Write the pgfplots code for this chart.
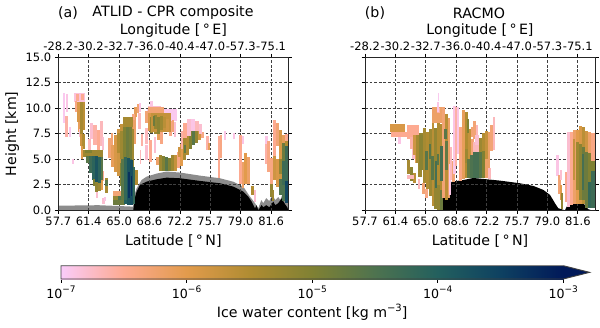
\documentclass[border=0pt]{standalone}
\usepackage{fontspec}
\setmainfont{DejaVu Sans}
\usepackage{pgfplots}
\usepackage{pgfplotstable}
\pgfplotsset{compat=1.18}
\pgfdeclareplotmark{seg}{\pgfpathrectangle{\pgfpointorigin}{\pgfpoint{\segw pt}{10.2*\segh pt}}\pgfusepathqfill}
\pgfplotstableread{
x y w h v
5 8.6 2 2.9 -6.95
7 7.2 3 2.0 -6.6
8 9.6 2 1.8 -6.9
14 4.5 2 0.5 -6.9
11 7.2 2 1.0 -6.95
16 10.6 11 0.9 -6.85
18 10.7 3 0.7 -6.5
23 10.8 3 0.6 -6.5
17 9.6 2 1.1 -6.4
19 8.7 3 1.9 -5.9
22 7.5 3 3.1 -5.4
25 7.9 2 2.7 -5.6
20 7.7 2 1.0 -6.1
22 6.3 2 1.2 -5.8
24 6.0 3 1.5 -5.5
23 5.0 2 1.3 -6.0
21 7.2 1 0.8 -6.8
32 7.0 3 1.6 -6.8
30 5.9 3 1.1 -6.7
35 6.4 4 2.0 -6.6
39 5.9 3 2.0 -6.5
42 6.3 3 2.5 -6.7
44 5.9 2 1.3 -6.8
25 5.2 20 0.75 -5.3
27 5.6 7 0.35 -5.0
28 4.6 3 0.7 -4.6
31 3.7 3 1.6 -4.3
34 3.0 3 2.3 -4.1
37 2.8 3 2.5 -3.8
40 2.6 3 2.6 -4.1
43 3.0 2 2.2 -4.6
35 2.4 2 0.7 -5.0
37 1.8 3 1.0 -5.2
40 1.9 3 0.8 -5.3
43 2.0 2 1.0 -6.0
45 2.9 1 1.0 -6.5
38 1.2 2 0.6 -6.8
47 1.7 3 1.5 -5.4
47 2.4 3 0.6 -4.6
44 0.6 3 0.6 -6.8
46 0.9 2 0.4 -6.9
53 6.4 2 1.2 -6.3
50 5.1 3 2.0 -6.3
53 4.2 3 2.2 -6.1
56 3.8 3 3.6 -5.9
59 3.4 3 4.6 -5.8
62 4.6 3 3.9 -5.7
55 1.4 12 0.45 -6.3
55 1.0 12 0.45 -5.2
55 0.5 12 0.5 -4.8
60 1.0 3 0.4 -4.5
65 7.0 3 2.0 -5.2
68 6.8 3 2.3 -5.2
71 7.2 3 1.9 -5.3
74 7.0 1 2.0 -5.9
75 6.5 3 2.8 -6.2
62 2.4 3 2.2 -5.0
65 3.5 3 3.5 -4.6
68 4.0 3 2.8 -4.4
71 4.0 3 3.2 -4.4
74 3.0 2 3.5 -5.2
63 1.0 3 1.4 -4.7
66 0.6 3 2.9 -4.0
69 0.5 3 3.5 -3.5
72 0.5 3 3.5 -3.5
75 0.9 2 3.0 -4.3
70 1.0 1 3.0 -3.2
73 1.2 1 2.2 -3.2
77 2.5 3 1.5 -5.5
66 4.0 2 1.5 -4.2
76 9.1 3 1.0 -6.1
79 9.5 2 0.9 -6.3
74 8.9 3 0.5 -6.4
81 9.6 2 0.9 -6.9
80 8.0 3 1.5 -6.7
83 6.3 2 1.2 -6.6
82 4.5 1 1.4 -6.7
87 6.5 3 1.6 -6.7
89 8.8 30 1.1 -6.95
90 9.6 13 0.6 -6.8
92 10.2 3 0.5 -6.9
87 8.6 3 1.1 -6.3
90 7.8 3 1.8 -5.9
93 7.7 3 1.9 -5.4
96 7.5 3 2.1 -5.3
99 7.8 3 1.7 -5.1
102 7.8 3 1.6 -5.5
105 8.1 3 1.1 -5.8
108 7.7 3 1.5 -5.9
111 7.3 3 1.5 -6.4
114 7.7 2 1.2 -6.3
116 7.2 2 1.5 -6.8
92 7.6 3 1.5 -5.2
95 8.1 2 1.0 -4.7
99 6.9 3 0.8 -6.1
102 6.5 3 1.2 -6.4
87 4.9 3 1.5 -6.8
91 4.7 3 2.2 -6.5
96 5.6 2 1.6 -6.8
98 4.4 3 0.8 -6.2
101 3.9 3 1.5 -5.3
104 3.9 3 1.4 -5.0
107 3.9 3 1.3 -4.6
110 3.9 3 1.2 -5.0
113 3.9 3 1.5 -5.3
116 3.9 3 1.5 -5.7
119 4.1 3 1.6 -6.4
122 4.3 3 2.2 -6.0
125 4.9 3 2.2 -5.4
128 5.4 3 1.9 -5.5
131 6.0 3 1.9 -5.0
134 6.4 3 1.4 -4.6
137 6.6 3 1.2 -5.2
140 6.9 3 0.9 -5.8
143 7.1 3 0.6 -6.4
120 5.2 3 1.0 -5.8
123 6.0 2 1.8 -6.6
125 7.1 4 1.5 -6.5
129 7.3 4 1.7 -6.8
133 7.8 4 1.2 -6.9
137 7.8 4 1.0 -6.7
141 7.5 3 1.0 -6.8
126 5.6 2 0.8 -4.7
148 5.9 3 1.4 -6.6
150 5.9 2 0.7 -6.1
160 3.2 2 4.1 -6.5
162 5.1 2 2.3 -6.4
166 6.9 2 0.9 -6.9
175 7.0 2 0.6 -6.9
181 2.6 3 4.8 -6.5
184 2.2 2 2.5 -6.2
184 6.5 2 0.8 -6.9
186 2.6 3 3.0 -6.0
189 2.6 3 2.6 -6.2
193 1.5 3 0.9 -5.5
196 0.8 2 1.2 -6.8
207 4.5 2 2.8 -6.6
207 6.5 3 0.8 -6.9
209 3.8 3 3.0 -6.4
212 2.6 3 2.5 -6.4
212 1.3 3 1.3 -5.2
214 0.9 2 1.1 -5.3
215 5.3 3 3.6 -6.5
218 2.3 3 2.7 -5.9
218 6.3 3 2.3 -6.3
221 2.2 3 2.5 -5.8
221 4.5 3 3.4 -5.9
224 3.7 3 3.7 -6.1
227 4.6 3 2.9 -6.5
215 3.0 3 2.3 -5.8
224 0.9 3 2.8 -4.5
221 1.5 3 1.6 -4.5
227 0.7 3 2.4 -3.6
224 2.5 3 2.3 -4.3
227 2.9 3 3.5 -4.3
221 3.6 3 1.4 -5.2
224 4.8 3 1.8 -4.8
227 6.3 3 0.5 -5.5
65 8.2 10 0.9 -5.4
59 5.6 3 2.0 -5.5
62 5.0 3 2.8 -5.3
65 5.0 3 3.2 -5.0
68 5.0 3 3.2 -4.8
71 5.0 3 3.2 -4.9
74 5.0 2 3.0 -5.3
63 2.0 3 3.0 -4.6
66 1.0 3 4.2 -4.2
69 0.5 3 4.6 -3.8
72 0.5 3 4.4 -3.7
75 0.6 2 3.6 -4.2
70 1.2 2 2.6 -3.3
73 1.4 1 2.0 -3.2
93 7.7 20 1.8 -5.7
96 8.0 3 1.3 -5.2
99 7.5 3 1.6 -5.1
102 7.9 3 1.3 -5.3
105 8.1 3 1.0 -5.6
108 7.8 3 1.2 -5.8
95 8.3 2 0.9 -4.8
90 9.5 16 0.6 -6.3
}\tblA
\pgfplotstableread{
x y w h v
25 7.7 15 0.75 -5.9
26 7.15 19 0.55 -6.5
33 6.5 3 0.7 -6.9
42 3.6 3 1.3 -5.4
45 2.9 3 1.3 -5.1
48 2.7 3 1.0 -5.6
42 3.1 7 0.4 -6.7
53 2.1 2 1.0 -6.7
42 7.0 12 1.4 -6.5
45 6.0 5 1.2 -6.6
47 5.0 3 1.0 -6.8
50 4.6 4 2.8 -6.1
53 3.3 4 1.9 -5.3
54 5.1 4 2.5 -5.2
58 2.7 3 5.4 -5.4
61 2.1 3 5.6 -5.5
64 1.4 3 6.6 -5.3
57 1.6 3 1.1 -6.3
60 1.2 3 0.9 -6.4
67 0.4 2 8.3 -5.6
69 0.1 3 8.0 -5.2
72 0.0 3 2.6 -5.2
72 2.5 3 7.0 -5.5
75 0.0 3 2.0 -4.8
75 2.0 3 6.5 -5.5
67 8.6 10 1.5 -6.2
77 1.2 3 8.9 -6.3
72 9.5 3 0.5 -6.6
80 1.0 3 8.4 -5.6
83 1.2 2 7.8 -6.2
75 2.9 3 3.4 -4.4
70 2.2 2 2.6 -4.4
66 3.0 3 2.3 -4.6
60 4.0 3 1.8 -4.6
64 5.0 2 1.5 -4.6
72 4.4 2 1.1 -4.6
80 4.0 3 2.8 -4.7
79 7.0 3 1.0 -4.6
73 10.7 1 0.8 -6.95
72 9.6 2 1.0 -6.9
84 1.5 2 3.0 -6.9
85 3.0 2 3.2 -6.7
87 2.8 3 2.0 -6.3
88 3.6 3 6.6 -6.9
90 4.3 2 5.8 -6.6
92 5.5 2 4.6 -6.9
94 2.9 3 5.3 -6.4
97 3.1 3 6.7 -6.1
100 3.2 3 6.4 -5.5
103 3.2 3 4.8 -5.7
106 3.2 3 3.8 -6.3
102 7.6 2 1.4 -5.0
106 7.2 2 1.0 -6.3
108 7.0 3 1.8 -6.3
111 6.4 2 2.0 -6.7
113 6.5 3 0.6 -6.9
100 4.6 3 1.4 -5.3
102 3.2 3 1.8 -4.7
105 3.2 3 2.2 -4.5
108 3.2 3 2.5 -4.4
111 3.2 3 3.0 -4.4
114 3.2 3 3.2 -4.6
117 3.2 3 2.7 -5.0
120 3.2 3 1.8 -6.2
123 3.1 3 1.0 -6.7
114 5.7 3 1.4 -5.3
117 5.8 3 1.8 -5.5
120 5.0 3 2.8 -5.7
123 4.1 2 3.6 -6.2
125 5.8 3 2.6 -6.3
128 5.9 2 3.2 -6.7
108 5.7 6 1.0 -6.7
110 6.4 4 1.0 -6.8
191 3.4 3 2.0 -6.9
193 1.6 3 1.9 -6.3
195 1.0 2 1.5 -6.0
195 3.0 2 1.0 -6.8
196 0.1 2 1.6 -5.2
200 0.8 3 3.0 -6.5
202 0.3 3 7.4 -6.8
205 0.5 3 7.2 -6.5
208 0.6 3 7.3 -6.2
211 0.6 3 7.3 -6.0
214 0.6 3 7.7 -5.9
217 0.6 3 7.6 -5.6
220 0.2 3 7.6 -5.8
223 0.2 3 7.5 -6.2
226 0.2 4 7.4 -6.4
208 3.0 2 4.0 -5.7
211 2.0 3 4.7 -5.3
214 1.0 3 5.5 -5.1
217 1.0 3 5.2 -4.8
220 0.2 3 5.5 -4.8
223 0.2 3 5.4 -5.0
226 0.2 4 4.6 -5.0
217 2.0 2 3.5 -4.4
223 0.2 3 2.6 -4.2
226 0.2 4 3.7 -4.3
48 5.4 3 2.0 -5.8
51 4.6 3 2.8 -5.4
54 4.0 4 3.4 -5.1
}\tblB
\pgfplotsset{
  colormap={blw}{rgb255(0)=(250,204,250) rgb255(1)=(253,170,145) rgb255(2)=(226,155,76) rgb255(3)=(176,140,50) rgb255(4)=(128,129,51) rgb255(5)=(78,115,79) rgb255(6)=(35,96,94) rgb255(7)=(14,65,97) rgb255(8)=(1,25,89)},
  colormap name=blw,
  panel/.style={
    scale only axis, width=230pt, height=153pt, anchor=south west,
    xmin=0, xmax=230, ymin=0, ymax=15,
    xtick={0,30.4,60.8,91.2,121.6,152,182.4,212.8},
    ytick={0,2.5,5,7.5,10,12.5,15},
    xticklabels={57.7,61.4,65.0,68.6,72.2,75.7,79.0,81.6},
    tick align=outside, major tick length=3.5pt,
    tick style={black,line width=0.8pt},
    axis line style={line width=1pt,black!85},
    grid=major, grid style={black!75,line width=0.7pt,dash pattern=on 2.8pt off 1.8pt},
    axis on top,
    tick label style={font=\fontsize{11.5}{12}\selectfont},
    label style={font=\fontsize{14.2}{16}\selectfont},
    xlabel={Latitude [\,°\,N]},
    xlabel style={at={(axis description cs:0.5,-0.2)},anchor=center},
    point meta min=-7, point meta max=-3,
    clip=true,
  },
  toppanel/.style={
    scale only axis, width=230pt, height=153pt, anchor=south west,
    xmin=0, xmax=230, ymin=0, ymax=15,
    axis x line*=top, axis y line=none,
    xtick={0,30.4,60.8,91.2,121.6,152,182.4,212.8},
    xticklabels={-28.2,-30.2,-32.7,-36.0,-40.4,-47.0,-57.3,-75.1},
    tick align=outside, major tick length=3.5pt,
    tick style={black,line width=0.8pt},
    tick label style={font=\fontsize{11.5}{12}\selectfont},
    label style={font=\fontsize{14.2}{16}\selectfont},
    xlabel={Longitude [\,°\,E]},
    xlabel style={at={(axis description cs:0.5,1.175)},anchor=center},
    axis line style={draw=none},
  },
  seg/.style={
    scatter, only marks, mark=seg, point meta=explicit,
    visualization depends on={\thisrow{w} \as \segw},
    visualization depends on={\thisrow{h} \as \segh},
  },
}
\begin{document}
\begin{tikzpicture}[x=1pt,y=1pt]
\useasboundingbox (0,0) rectangle (600,327);
% panel a
\begin{axis}[panel, at={(58.3pt,116.7pt)},
  yticklabels={0.0,2.5,5.0,7.5,10.0,12.5,15.0},
  ylabel={Height [km]},
  ylabel style={at={(axis description cs:-0.2,0.5)},anchor=center,rotate=0}]
\addplot[seg] table[x=x,y=y,meta=v] {\tblA};
\addplot[fill=black!45,draw=none] coordinates {(0,0)(0,0.45)(40,0.5)(75,0.36)(75.7,1.34)(78.3,2.15)(83.3,2.97)(88.3,3.3)(98.3,3.6)(108.3,3.8)(121.7,3.7)(141.7,3.4)(161.7,3.14)(175,2.8)(185,2.32)(191.7,1.34)(196.7,0.7)(200,0.2)(203,1.0)(205,0.7)(208,1.2)(211,0.9)(214,1.5)(217,1.0)(220,1.3)(222,1.0)(225,1.8)(228,1.2)(230,0.6)(230,0)} \closedcycle;
\addplot[fill=black,draw=none] coordinates {(75,0)(76,1.0)(78.3,1.83)(81.7,2.5)(88.3,2.81)(98.3,3.04)(108.3,3.2)(121.7,3.14)(141.7,2.88)(161.7,2.65)(175,2.32)(185,1.83)(190,1.34)(193.3,0.85)(196.7,0.2)(198.3,0.5)(200,0)(203.3,0.52)(205,0.3)(208,0.5)(211,0.3)(215,0.85)(217,0.5)(220,0.7)(223.3,1.18)(226.7,0.6)(229,0.3)(230,0)} \closedcycle;
\end{axis}
\begin{axis}[toppanel, at={(58.3pt,116.7pt)}]
\addplot[draw=none] coordinates {(0,0)(230,15)};
\end{axis}
% panel b
\begin{axis}[panel, at={(365pt,116.7pt)}, yticklabels={}]
\addplot[seg] table[x=x,y=y,meta=v] {\tblB};
\addplot[fill=black,draw=none] coordinates {(74.3,0)(76.7,1.34)(81.7,2.15)(86.7,2.8)(98.3,2.97)(108.3,3.17)(121.7,3.04)(135,2.91)(155,2.65)(168.3,2.39)(178.3,2.0)(185,1.51)(190,0.69)(193.3,0.2)(200,0)(201.7,0.36)(206.7,0.69)(211.7,0.85)(215,1.34)(218.3,0.69)(223.3,0.1)(226.7,0)} \closedcycle;
\end{axis}
\begin{axis}[toppanel, at={(365pt,116.7pt)}]
\addplot[draw=none] coordinates {(0,0)(230,15)};
\end{axis}
% titles
\node[font=\fontsize{14.2}{16}\selectfont] at (68,314) {(a)};
\node[font=\fontsize{14.2}{16}\selectfont] at (173,314) {ATLID - CPR composite};
\node[font=\fontsize{14.2}{16}\selectfont] at (375,314) {(b)};
\node[font=\fontsize{14.2}{16}\selectfont] at (479,314) {RACMO};
% colorbar
\begin{axis}[scale only axis, width=502.3pt, height=13.3pt, anchor=south west, at={(61pt,48pt)},
  xmin=-7, xmax=-3, ymin=0, ymax=1, clip=false,
  axis line style={draw=none},
  axis x line*=bottom, axis y line=none,
  xtick={-7,-6,-5,-4,-3},
  xticklabels={10\raisebox{0.45em}{\fontsize{9}{9}\selectfont −7},10\raisebox{0.45em}{\fontsize{9}{9}\selectfont −6},10\raisebox{0.45em}{\fontsize{9}{9}\selectfont −5},10\raisebox{0.45em}{\fontsize{9}{9}\selectfont −4},10\raisebox{0.45em}{\fontsize{9}{9}\selectfont −3}},
  tick align=outside, major tick length=3.5pt,
  tick style={black,line width=0.8pt},
  tick label style={font=\fontsize{12.6}{13}\selectfont},
  xlabel={Ice water content [kg m\raisebox{0.45em}{\fontsize{10}{11}\selectfont −3}]},
  xlabel style={font=\fontsize{14.2}{16}\selectfont,at={(axis description cs:0.5,-2.5)},anchor=center},
  point meta min=-7, point meta max=-3]
\addplot[surf, shader=interp, mesh/rows=2, point meta=x] coordinates {(-7,0)(-3,0)

(-7,1)(-3,1)};
\addplot[draw=none,fill={rgb,255:red,1;green,25;blue,89}] coordinates {(-3,0)(-2.79,0.5)(-3,1)} --cycle;
\addplot[draw=black!75,line width=0.9pt] coordinates {(-7,0)(-3,0)(-2.79,0.5)(-3,1)(-7,1)} --cycle;
\end{axis}
\end{tikzpicture}
\end{document}
